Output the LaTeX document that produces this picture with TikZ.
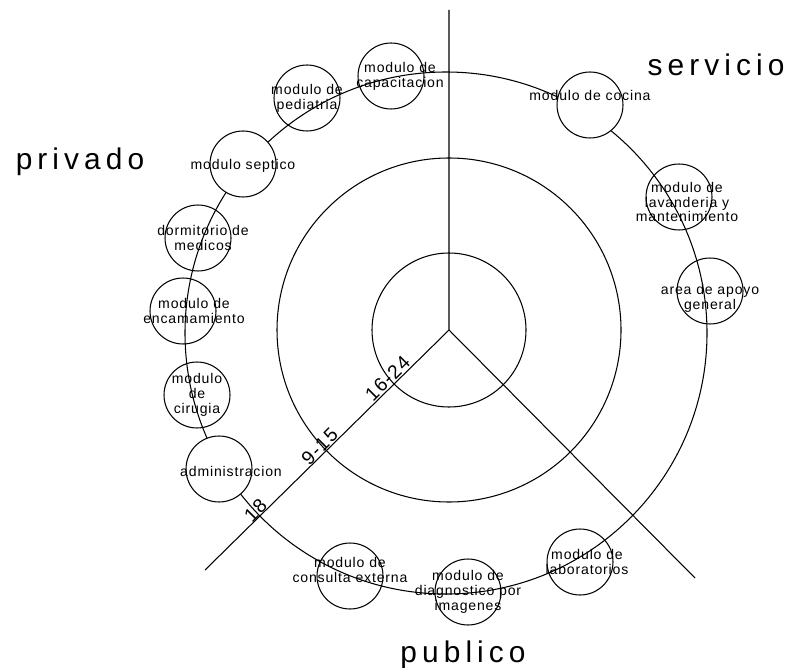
\documentclass[tikz,border=0pt]{standalone}
\usepackage{fontspec}
\usepackage{tikz}
\newfontfamily\rotfont[LetterSpace=6]{Liberation Sans}
\newfontfamily\zonafont[LetterSpace=17]{Liberation Sans}
\tikzstyle{modulo} = [circle, draw=black, minimum size=1.32cm, inner sep=0pt]
\tikzstyle{lleno} = [fill=white]
\tikzstyle{rotulo} = [align=center, inner sep=0pt, font=\rotfont\fontsize{8}{8.5}\selectfont]
\tikzstyle{zona} = [anchor=base, inner sep=0pt, font=\zonafont\fontsize{17}{19}\selectfont]
\tikzstyle{cota} = [rotate=45, anchor=south, inner sep=1pt, font=\rotfont\fontsize{11}{12}\selectfont]

\begin{document}
\begin{tikzpicture}[x=0.02cm, y=-0.02cm, line width=0.6pt]
\useasboundingbox (0,0) rectangle (793,668);

\coordinate (centro) at (449,330);
\coordinate (norte) at (449,10);
\coordinate (suroeste) at (205,570);
\coordinate (sureste) at (695,578);

\draw (centro) circle [radius=77];
\draw (centro) circle [radius=172];
\draw (446,333) circle [radius=261];
\draw (norte) -- (centro) -- (suroeste);
\draw (centro) -- (sureste);

\node [cota] (c1) at (394,385) {16-24};
\node [cota] (c2) at (326,453) {9-15};
\node [cota] (c3) at (262,517) {18};

\node [modulo] (capacitacion) at (391,76) {};
\node [modulo] (pediatria) at (307,98) {};
\node [modulo, lleno] (septico) at (243,164) {};
\node [modulo] (dormitorio) at (198,238) {};
\node [modulo] (encamamiento) at (183,311) {};
\node [modulo] (cirugia) at (197,395) {};
\node [modulo, lleno] (administracion) at (219,469) {};
\node [modulo] (consulta) at (350,576) {};
\node [modulo] (diagnostico) at (468,592) {};
\node [modulo] (laboratorios) at (580,562) {};
\node [modulo] (apoyo) at (710,291) {};
\node [modulo] (lavanderia) at (679,197) {};
\node [modulo, lleno] (cocina) at (590,105) {};

\node [rotulo, xshift=0.18cm] (capacitacion-t) at (capacitacion) {modulo de\\capacitacion};
\node [rotulo] (pediatria-t) at (pediatria) {modulo de\\pediatria};
\node [rotulo, yshift=-0.04cm] (septico-t) at (septico) {modulo septico};
\node [rotulo, xshift=0.1cm] (dormitorio-t) at (dormitorio) {dormitorio de\\medicos};
\node [rotulo, xshift=0.22cm] (encamamiento-t) at (encamamiento) {modulo de\\encamamiento};
\node [rotulo] (cirugia-t) at (cirugia) {modulo\\de\\cirugia};
\node [rotulo, xshift=0.24cm, yshift=-0.04cm] (administracion-t) at (administracion) {administracion};
\node [rotulo, yshift=0.12cm] (consulta-t) at (consulta) {modulo de\\consulta externa};
\node [rotulo] (diagnostico-t) at (diagnostico) {modulo de\\diagnostico por\\imagenes};
\node [rotulo, xshift=0.14cm] (laboratorios-t) at (laboratorios) {modulo de\\laboratorios};
\node [rotulo, yshift=-0.14cm] (apoyo-t) at (apoyo) {area de apoyo\\general};
\node [rotulo, xshift=0.16cm, yshift=-0.1cm] (lavanderia-t) at (lavanderia) {modulo de\\lavanderia y\\mantenimiento};
\node [rotulo, yshift=0.2cm] (cocina-t) at (cocina) {modulo de cocina};

\node [zona] (privado) at (80,170) {privado};
\node [zona] (servicio) at (716,76) {servicio};
\node [zona] (publico) at (463,662) {publico};

\end{tikzpicture}
\end{document}
